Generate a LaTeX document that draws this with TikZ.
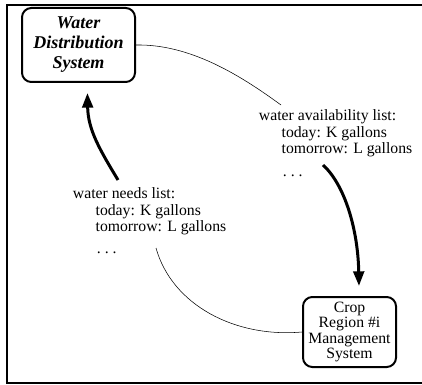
\documentclass[tikz,border=0pt]{standalone}
\usepackage{fontspec}
\setmainfont{Liberation Serif}
\usetikzlibrary{shapes,arrows.meta,positioning}

\begin{document}
\begin{tikzpicture}[x=0.75pt,y=-0.75pt,
   sys/.style={draw,rounded corners=7pt,line width=1.5pt,inner sep=0pt,align=center},
   flow/.style={line width=2.25pt,-{Triangle[length=11pt,width=8pt]},shorten >=7.5pt},
   msg/.style={align=left,inner sep=0pt,anchor=north west,font=\fontsize{11.8}{12.4}\selectfont}]
   \useasboundingbox (0,0) rectangle (422,385);
   \draw[line width=1.2pt] (430,5) -- (7,5) -- (7,383) -- (430,383);
   % the two systems
   \node[sys,minimum width=84.75pt,minimum height=55.5pt,
         font=\fontsize{13.5}{15}\selectfont\bfseries\itshape] (WDS) at (78.5,45)
         {Water\\Distribution\\System};
   \node[sys,minimum width=69.75pt,minimum height=52.5pt,
         font=\fontsize{11.8}{11.6}\selectfont] (CRM) at (349.5,332)
         {Crop\\Region \#i\\Management\\System};
   % the lists
   \node[msg] (avail) at (258.7,109.3) {water availability list:\\
         \hspace*{17pt}today: K gallons\\
         \hspace*{17pt}tomorrow: L gallons\\[5pt]
         \hspace*{18pt}.\ .\ .};
   \node[msg] (needs) at (72.7,187.3) {water needs list:\\
         \hspace*{17pt}today: K gallons\\
         \hspace*{17pt}tomorrow: L gallons\\[4pt]
         \hspace*{18pt}.\ .\ .};
   \coordinate (availIn) at (281,105);
   \coordinate (availOut) at (323,165);
   \coordinate (needsIn) at (156,248);
   \coordinate (needsOut) at (118,180);
   \draw (WDS.east) .. controls (190,44) and (240,75) .. (availIn);
   \draw[flow] (availOut) .. controls (345,185) and (358,230) .. (CRM.75);
   \draw (needsIn) .. controls (172,305) and (235,338) .. (CRM.west);
   \draw[flow] (needsOut) .. controls (100,150) and (88,130) .. (WDS.-77);
\end{tikzpicture}
\end{document}
